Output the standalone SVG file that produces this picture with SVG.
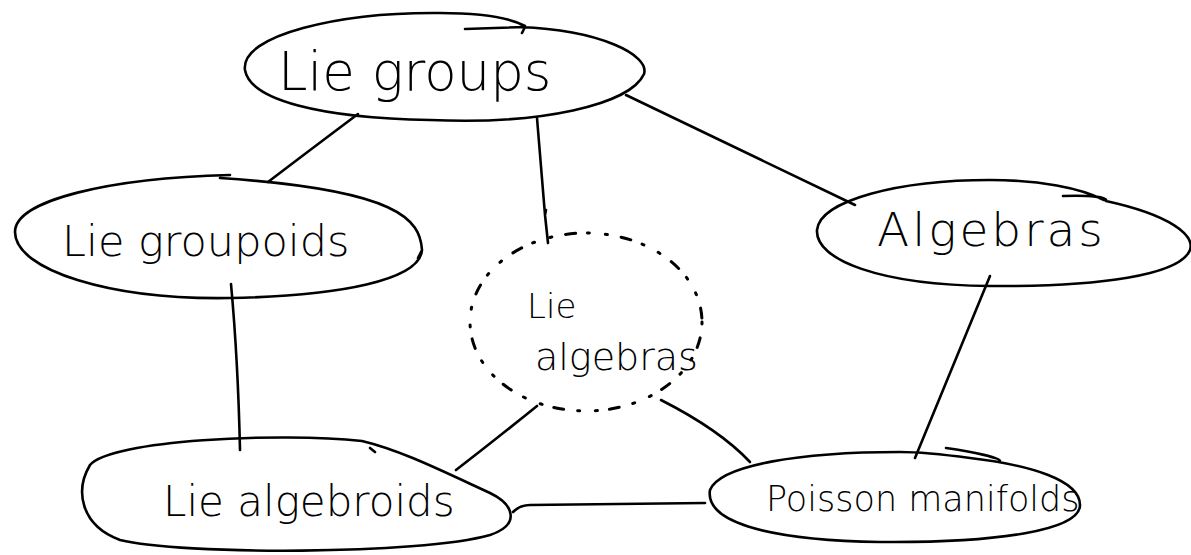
<svg xmlns="http://www.w3.org/2000/svg" width="1191" height="555" viewBox="0 0 1191 555">
<style>
.s{fill:none;stroke:#000;stroke-width:2.6;stroke-linecap:round;stroke-linejoin:round}
.d{fill:none;stroke:#000;stroke-width:3;stroke-linecap:round;stroke-dasharray:2 14 10 12 2 16}
.t{font-family:"DejaVu Sans","Liberation Sans",sans-serif;fill:#000;font-weight:300}
</style>
<rect width="1191" height="555" fill="#fff"/>
<g id="connectors">
<path class="s" d="M358 114 Q310 150 268 182"/>
<path class="s" d="M626 95 Q740 150 855 205"/>
<path class="s" d="M537 118 Q542 180 545 215 L548 243 M545 215 L546 210"/>
<path class="s" d="M990 276 Q955 360 915 458"/>
<path class="s" d="M231 284 Q238 360 240 450"/>
<path class="s" d="M537 406 Q495 440 456 470"/>
<path class="s" d="M661 400 Q720 430 750 462"/>
<path class="s" d="M513 512 Q520 505 530 505 L705 503"/>
</g>
<g id="lie-groups">
<path class="s" d="M465 29 L525 27 L522 33 M520 27 C600 30 650 55 644 74 C630 105 540 125 430 120 C320 118 250 100 245 70 C240 35 340 12 440 13 C480 13 510 18 525 26"/>
<text class="t" x="278" y="90" font-size="53">Lie groups</text>
</g>
<g id="lie-groupoids">
<path class="s" d="M230 175 C110 178 15 200 15 232 C15 270 110 300 230 298 C340 296 420 280 422 250 L418 258 M422 250 C420 220 400 190 220 178"/>
<text class="t" x="62" y="256" font-size="43">Lie groupoids</text>
</g>
<g id="algebras">
<path class="s" d="M1063 196 C1090 195 1108 197 1106 201 C1170 215 1195 235 1190 250 C1180 275 1100 287 990 286 C880 285 815 260 817 230 C820 200 900 180 990 180 C1040 180 1080 188 1104 200"/>
<text class="t" x="877" y="246" font-size="47" letter-spacing="3">Algebras</text>
</g>
<g id="lie-algebras">
<ellipse class="d" cx="586" cy="322" rx="116" ry="89"/>
<text class="t" x="527" y="318" font-size="34">Lie</text>
<text class="t" x="535" y="370" font-size="38">algebras</text>
</g>
<g id="lie-algebroids">
<path class="s" d="M370 448 L375 452 M362 441 C280 432 110 440 90 465 C75 490 80 525 120 540 C180 555 420 555 490 535 C520 525 515 505 490 493 C440 470 400 450 362 441"/>
<text class="t" x="163" y="516" font-size="42">Lie algebroids</text>
</g>
<g id="poisson-manifolds">
<path class="s" d="M946 448 C975 452 1000 458 1000 461 M900 452 C800 452 720 465 710 490 C705 520 760 540 880 542 C1000 543 1080 530 1080 505 C1080 480 1030 465 970 458 C940 454 920 452 900 452"/>
<text class="t" x="766" y="511" font-size="35">Poisson manifolds</text>
</g>
</svg>
